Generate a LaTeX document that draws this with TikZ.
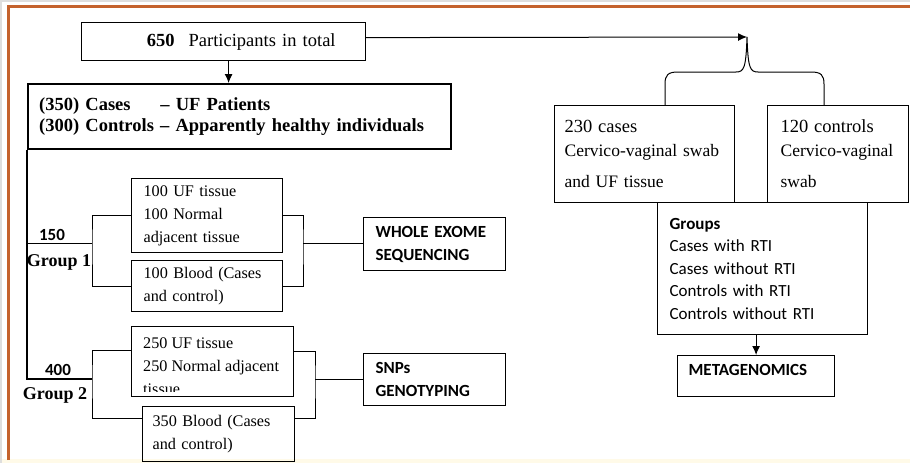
\documentclass[tikz,border=0pt]{standalone}
\usepackage{fontspec}
\setmainfont{Liberation Serif}
\newfontfamily\calibri{Carlito}
\usetikzlibrary{arrows.meta}

\definecolor{frameorange}{RGB}{196,98,45}
\definecolor{framegray}{RGB}{222,222,222}
\definecolor{frameyellow}{RGB}{255,250,232}

\begin{document}
\begin{tikzpicture}[x=1pt, y=-1pt,
    box/.style={draw, line width=1.2pt, anchor=north west, align=left, inner ysep=2pt},
    serifbig/.style={font=\fontsize{18.5}{22}\selectfont},
    seriftxt/.style={font=\fontsize{16.2}{23}\selectfont},
    sanstxt/.style={font=\calibri\fontsize{17}{22.5}\selectfont},
    sansbold/.style={font=\calibri\bfseries\fontsize{17}{23}\selectfont},
    grouplbl/.style={font=\bfseries\fontsize{18}{20}\selectfont, inner sep=0pt},
    link/.style={line width=1pt},
    trunk/.style={line width=2.2pt},
    arr/.style={line width=1pt, -{Latex[length=9pt,width=8pt]}}]
        \useasboundingbox (0,0) rectangle (910,463);
        % frame of the slide
        \fill[frameyellow] (0,459) rectangle (910,463);
        \draw[framegray, line width=1.5pt] (0,1) -- (910,1);
        \draw[framegray, line width=1.5pt] (1,0) -- (1,463);
        \draw[frameorange, line width=3pt] (8.5,460) -- (8.5,6.5) -- (910,6.5);

        % participants
        \node[box, serifbig, text width=224pt, inner xsep=30pt, minimum height=38pt, align=right] (total) at (81,22)
            {\textbf{650}\hspace{14pt}Participants in total};
        \node[box, line width=2.4pt, text width=401pt, inner xsep=11pt, minimum height=65pt,
            font=\bfseries\fontsize{18.5}{21.5}\selectfont] (cohorts) at (27,83)
            {(350) Cases\hspace{23.6pt} – UF Patients\\(300) Controls – Apparently healthy individuals};

        % group 1
        \node[box, seriftxt, text width=127pt, inner xsep=12pt, minimum height=74pt] (uf1) at (131,178)
            {100 UF tissue\\100 Normal\\adjacent tissue};
        \node[box, seriftxt, text width=127pt, inner xsep=12pt, minimum height=51pt] (blood1) at (131,260)
            {100 Blood (Cases\\and control)};
        \node[box, sansbold, text width=118pt, inner xsep=12pt, minimum height=53pt] (wes) at (363,217)
            {WHOLE EXOME\\SEQUENCING};
        \node[sansbold] (n150) at (52,235) {150};
        \node[grouplbl] (grp1) at (59,262) {Group 1};

        % group 2
        \node[box, minimum width=162pt, minimum height=70pt] (uf2) at (131,326) {};
        \begin{scope}
            \clip (uf2.north west) rectangle ([yshift=6pt]uf2.south east);
            \node[seriftxt, anchor=north west, inner sep=0pt, align=left] (uf2txt) at (143,338)
                {250 UF tissue\\250 Normal adjacent\\tissue};
        \end{scope}
        \node[box, seriftxt, text width=132pt, inner xsep=10pt, minimum height=55pt] (blood2) at (142,406)
            {350 Blood (Cases\\and control)};
        \node[box, sansbold, text width=118pt, inner xsep=12pt, minimum height=52pt] (snp) at (363,353)
            {SNPs\\GENOTYPING};
        \node[sansbold] (n400) at (58,370) {400};
        \node[grouplbl] (grp2) at (55,395) {Group 2};

        % metagenomics side
        \node[box, text width=160pt, inner xsep=10pt, minimum height=97pt, font=\fontsize{17.5}{24}\selectfont] (cases) at (554,105)
            {{\fontsize{18.5}{24}\selectfont 230 cases}\\Cervico-vaginal swab\\[7pt]and UF tissue};
        \node[box, text width=115pt, inner xsep=13pt, minimum height=97pt, font=\fontsize{17.5}{24}\selectfont] (controls) at (767,105)
            {{\fontsize{18.5}{24}\selectfont 120 controls}\\Cervico-vaginal\\[7pt]swab};
        \node[box, sanstxt, text width=186pt, inner xsep=12pt, minimum height=132pt] (groups) at (657,202)
            {\textbf{Groups}\\Cases with RTI\\Cases without RTI\\Controls with RTI\\Controls without RTI};
        \node[box, sansbold, text width=135pt, inner xsep=11pt, minimum height=41pt, text depth=12pt] (meta) at (677,355)
            {METAGENOMICS};

        \coordinate (tip) at (747,37);
        \coordinate (legL) at (665,105);
        \coordinate (legR) at (824,105);
        \coordinate (b1) at (92,243);
        \coordinate (r1) at (303,243);
        \coordinate (b2) at (92,379);
        \coordinate (r2) at (315,379);

        % connectors
        \draw[arr] ([xshift=5pt]total.south) -- ([xshift=5pt]total.south |- cohorts.north);
        \draw[arr] ([yshift=4pt]total.east) -- (tip);
        \draw[link] (legL) -- (665,84) .. controls (665,75) and (668,72) .. (678,72) -- (736,72)
            .. controls (744,72) and (746,68) .. (tip) .. controls (748,68) and (750,72) .. (758,72)
            -- (811,72) .. controls (821,72) and (824,75) .. (824,84) -- (legR);
        \draw[arr] (meta.north |- groups.south) -- (meta.north);

        \draw[trunk] (cohorts.south west) |- (b2);
        \draw[link] (cohorts.south west |- b1) -- (b1);
        \draw[link] (uf1.west) -| (b1) |- (blood1.west);
        \draw[link] (uf1.east) -| (r1) |- (blood1.east);
        \draw[link] (r1) -- (r1 -| wes.west);
        \draw[link] ([yshift=11pt]uf2.west) -| (b2) |- ([yshift=16pt]blood2.west);
        \draw[link] ([yshift=10pt]uf2.east) -| (r2) |- ([yshift=16pt]blood2.east);
        \draw[link] (r2) -- (r2 -| snp.west);
\end{tikzpicture}
\end{document}
